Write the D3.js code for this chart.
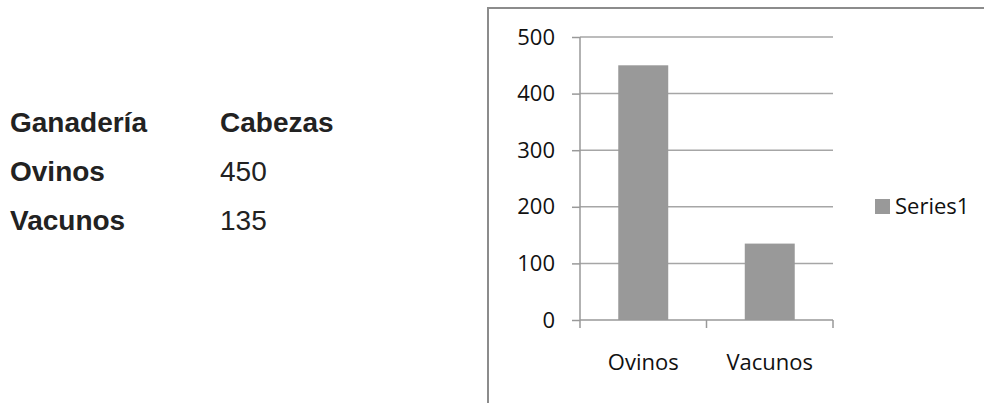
<!DOCTYPE html>
<html>
<head>
<meta charset="utf-8">
<script src="https://cdn.jsdelivr.net/npm/d3@7"></script>
<style>
  body { margin: 0; background: #fff; }
</style>
</head>
<body>
<div id="content"></div>
<script>
// data
var tableHeader = ["Ganadería", "Cabezas"];
var categories = ["Ovinos", "Vacunos"];
var values = [450, 135];
var yTicks = [0, 100, 200, 300, 400, 500];
var seriesName = "Series1";

var svg = d3.select("#content")
  .append("svg")
  .attr("width", 984).attr("height", 403);

// left table
var tbl = svg.append("g")
  .style("font-family", "'Liberation Sans', Arial, sans-serif")
  .style("font-size", "28px")
  .attr("fill", "#222");

var colX = [10, 220];
var rowY = [132, 181, 230];

tbl.selectAll("text.head")
  .data(tableHeader)
  .enter().append("text")
  .attr("x", function(d, i) { return colX[i]; })
  .attr("y", rowY[0])
  .attr("font-weight", "bold")
  .text(function(d) { return d; });

tbl.selectAll("text.cat")
  .data(categories)
  .enter().append("text")
  .attr("x", colX[0])
  .attr("y", function(d, i) { return rowY[i + 1]; })
  .attr("font-weight", "bold")
  .text(function(d) { return d; });

tbl.selectAll("text.val")
  .data(values)
  .enter().append("text")
  .attr("x", colX[1])
  .attr("y", function(d, i) { return rowY[i + 1]; })
  .text(function(d) { return d; });

// chart frame (runs off the picture on right and bottom)
svg.append("rect")
  .attr("x", 488).attr("y", 8)
  .attr("width", 700).attr("height", 500)
  .attr("fill", "none")
  .attr("stroke", "#8c8c8c")
  .attr("stroke-width", 2);

var plot = { left: 580, right: 833, top: 37, bottom: 320 };

var x = d3.scaleBand()
  .domain(categories)
  .range([plot.left, plot.right])
  .paddingInner(0.605)
  .paddingOuter(0.3025);

var y = d3.scaleLinear()
  .domain([0, 500])
  .range([plot.bottom, plot.top]);

var chart = svg.append("g")
  .style("font-family", "'Open Sans', sans-serif")
  .style("font-size", "22px");

// gridlines
chart.selectAll("line.grid")
  .data(yTicks.filter(function(d) { return d > 0; }))
  .enter().append("line")
  .attr("x1", plot.left).attr("x2", plot.right)
  .attr("y1", function(d) { return y(d); })
  .attr("y2", function(d) { return y(d); })
  .attr("stroke", "#a6a6a6")
  .attr("stroke-width", 1.5);

// bars
chart.selectAll("rect.bar")
  .data(values)
  .enter().append("rect")
  .attr("x", function(d, i) { return x(categories[i]); })
  .attr("y", function(d) { return y(d); })
  .attr("width", x.bandwidth())
  .attr("height", function(d) { return y(0) - y(d); })
  .attr("fill", "#999999");

// y axis
var yAxis = chart.append("g")
  .attr("transform", "translate(" + plot.left + ",0)")
  .call(d3.axisLeft(y).tickValues(yTicks).tickSize(8).tickPadding(17));
yAxis.selectAll("path, line").attr("stroke", "#999").attr("stroke-width", 1.5);
yAxis.select(".domain").attr("d", "M0," + plot.top + "V" + plot.bottom);
yAxis.selectAll("text")
  .attr("fill", "#111")
  .style("font-family", "'Open Sans', sans-serif")
  .style("font-size", "22px");

// x axis
var xAxis = chart.append("g")
  .attr("transform", "translate(0," + plot.bottom + ")")
  .call(d3.axisBottom(x).tickSize(0).tickPadding(34));
xAxis.select(".domain").attr("stroke", "#999").attr("stroke-width", 1.5)
  .attr("d", "M" + plot.left + ",0H" + plot.right);
xAxis.selectAll("text")
  .attr("fill", "#111")
  .style("font-family", "'Open Sans', sans-serif")
  .style("font-size", "22px");

// category separators
var step = x.step();
chart.selectAll("line.sep")
  .data(d3.range(categories.length + 1))
  .enter().append("line")
  .attr("x1", function(d) { return plot.left + d * step; })
  .attr("x2", function(d) { return plot.left + d * step; })
  .attr("y1", plot.bottom).attr("y2", plot.bottom + 8)
  .attr("stroke", "#999").attr("stroke-width", 1.5);

// legend
var legend = chart.append("g").attr("transform", "translate(875,199)");
legend.append("rect")
  .attr("width", 15).attr("height", 15)
  .attr("fill", "#999999");
legend.append("text")
  .attr("x", 20).attr("y", 15)
  .attr("fill", "#111")
  .text(seriesName);
</script>
</body>
</html>
